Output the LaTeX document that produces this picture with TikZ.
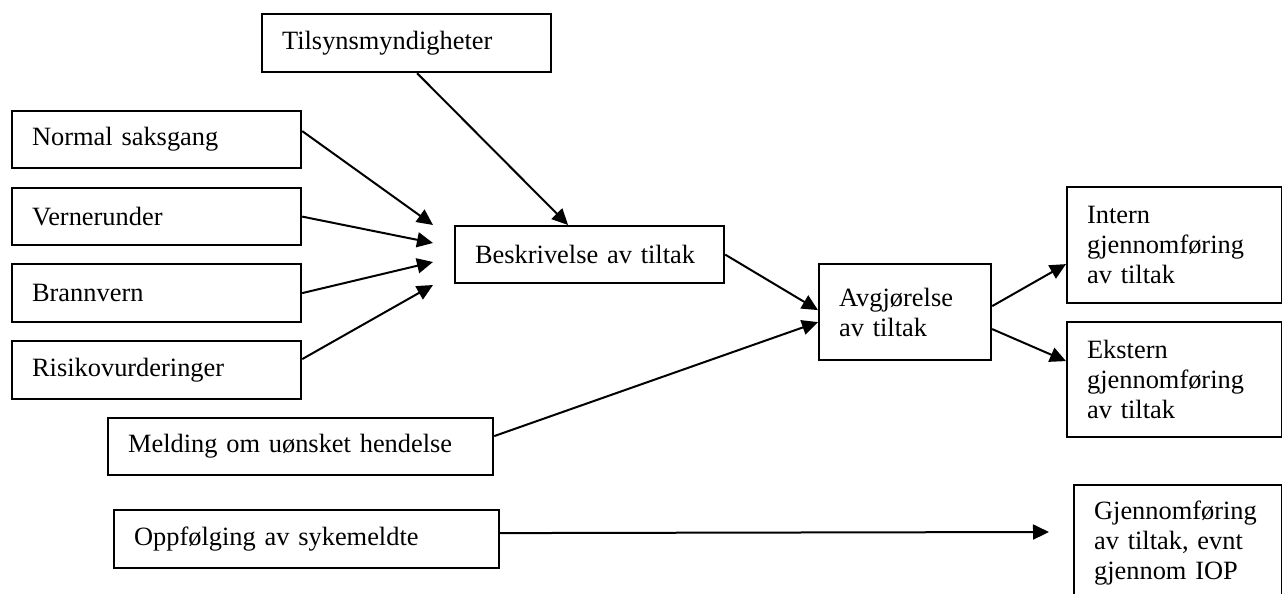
\documentclass[tikz,border=0pt]{standalone}
\usepackage{fontspec}
\setmainfont{Liberation Serif}
\usetikzlibrary{arrows.meta,positioning}

\begin{document}
\begin{tikzpicture}[
  x=0.5pt, y=-0.5pt,
  box/.style={draw, line width=1.1pt, anchor=north west, align=left, inner xsep=10pt, inner ysep=0pt, font=\fontsize{13.2}{15}\selectfont},
  arrow/.style={line width=1pt, -{Triangle[length=8pt, width=7.5pt]}},
  ]
  \clip (0,0) rectangle (1282,594);
  % sources
  \node[box, text width=124.5pt, minimum height=29pt] (tilsyn) at (261,13) {Tilsynsmyndigheter};
  \node[box, text width=124.5pt, minimum height=28.5pt] (normal) at (11,110) {Normal saksgang};
  \node[box, text width=124.5pt, minimum height=28.5pt] (verne) at (11,187) {Vernerunder};
  \node[box, text width=124.5pt, minimum height=29pt] (brann) at (11,263) {Brannvern};
  \node[box, text width=124.5pt, minimum height=29pt] (risiko) at (11,340) {Risikovurderinger};
  \node[box, text width=172.5pt, minimum height=28.5pt] (melding) at (107,417) {Melding om uønsket hendelse};
  \node[box, text width=172.5pt, minimum height=29pt] (oppf) at (113,509) {Oppfølging av sykemeldte};
  % middle
  \node[box, text width=114.5pt, minimum height=28.5pt] (beskr) at (454,225) {Beskrivelse av tiltak};
  \node[box, text width=66pt, minimum height=48pt] (avgj) at (818,263) {Avgjørelse\\av tiltak};
  % results
  \node[box, text width=87.5pt, minimum height=58pt] (intern) at (1066,186) {Intern\\gjennomføring\\av tiltak};
  \node[box, text width=87.5pt, minimum height=57.5pt] (ekstern) at (1066,321) {Ekstern\\gjennomføring\\av tiltak};
  \node[box, text width=84pt, minimum height=58pt] (gjenn) at (1073,484) {Gjennomføring\\av tiltak, evnt\\gjennom IOP};

  % free arrow ends
  \coordinate (in1) at (433,225);
  \coordinate (in2) at (433,243);
  \coordinate (in3) at (433,262);
  \coordinate (in4) at (433,285);
  \coordinate (oppfend) at (1049,532);

  \draw[arrow] ([xshift=5.25pt]tilsyn.south) -- ([xshift=-10.75pt]beskr.north);
  \draw[arrow] ([yshift=4.25pt]normal.east) -- (in1);
  \draw[arrow] (verne.east) -- (in2);
  \draw[arrow] (brann.east) -- (in3);
  \draw[arrow] ([yshift=5.5pt]risiko.east) -- (in4);
  \draw[arrow] (beskr.east) -- ([yshift=1pt]avgj.west);
  \draw[arrow] ([yshift=5.25pt]melding.east) -- ([yshift=-5pt]avgj.west);
  \draw[arrow] ([yshift=3pt]avgj.east) -- ([yshift=-9.5pt]intern.west);
  \draw[arrow] ([yshift=-8.5pt]avgj.east) -- ([yshift=9.25pt]ekstern.west);
  \draw[arrow] ([yshift=3pt]oppf.east) -- (oppfend);
\end{tikzpicture}
\end{document}
